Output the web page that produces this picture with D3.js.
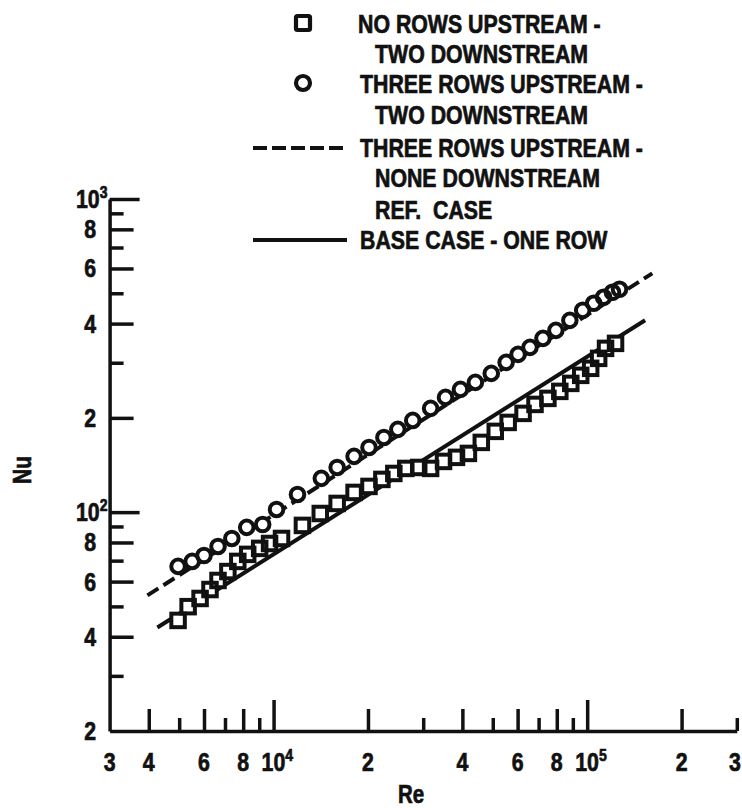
<!DOCTYPE html>
<html>
<head>
<meta charset="utf-8">
<script src="https://cdn.jsdelivr.net/npm/d3@7"></script>
<style>
  html, body { margin: 0; padding: 0; background: #fff; }
  svg { display: block; }
  text { font-family: 'Liberation Sans', Arial, sans-serif; font-weight: bold; fill: #111; stroke: #111; stroke-width: 0.7px; }
</style>
</head>
<body>
<svg id="chart" width="742" height="808"></svg>
<script>
// ---------------- data ----------------
// Three rows upstream - two downstream (circles)
const circleRe = [4960, 5500, 6000, 6650, 7360, 8210, 9230, 10220, 11920, 14200, 15950, 18060, 20150, 22480, 24900, 27780, 31680, 35340, 39430, 44000, 49450, 55150, 60200, 65710, 72270, 79470, 88050, 96770, 104900, 112800, 120400, 126800];
const circleNu = [67.1, 69.6, 72.7, 77.7, 82.4, 89.4, 91.3, 102.0, 113.9, 128.2, 138.9, 150.7, 160.9, 173.2, 183.8, 196.3, 214.5, 232.5, 246.6, 259.6, 277.4, 300.8, 319.0, 335.9, 358.9, 380.6, 409.7, 441.0, 464.4, 485.3, 503.5, 514.8];
// No rows upstream - two downstream (squares)
const squareRe = [4960, 5340, 5830, 6270, 6650, 7150, 7690, 8270, 9030, 9710, 10600, 12360, 14090, 15950, 18060, 20150, 22150, 24180, 26400, 29030, 31680, 34830, 38310, 41810, 45960, 50920, 55980, 62460, 68180, 74950, 81800, 88660, 95370, 102600, 108800, 114450, 123150];
const squareNu = [45.1, 49.9, 53.0, 56.6, 60.5, 64.6, 69.6, 73.3, 76.6, 79.4, 82.4, 90.7, 99.0, 106.6, 115.6, 120.8, 127.2, 132.9, 137.9, 138.9, 137.9, 145.2, 149.6, 154.0, 167.0, 181.1, 193.4, 206.7, 220.8, 230.8, 243.0, 257.7, 273.4, 287.9, 309.8, 333.4, 345.9];
// Reference case (dashed) and base case (solid) lines
const refRe = [3960, 161300];
const refNu = [54.2, 579];
const baseRe = [4260, 153000];
const baseNu = [42.8, 410];

// ticks
const xTickValues = [4000, 5000, 6000, 7000, 8000, 9000, 10000, 20000, 30000, 40000, 50000, 60000, 70000, 80000, 90000, 100000, 200000, 300000];
const xLabelValues = [3000, 4000, 6000, 8000, 10000, 20000, 40000, 60000, 80000, 100000, 200000, 300000];
const xLabelText = ["3", "4", "6", "8", "10^4", "2", "4", "6", "8", "10^5", "2", "3"];
const yTickValues = [30, 40, 50, 60, 70, 80, 90, 100, 200, 300, 400, 500, 600, 700, 800, 900, 1000];
const yLabelValues = [20, 40, 60, 80, 100, 200, 400, 600, 800, 1000];
const yLabelText = ["2", "4", "6", "8", "10^2", "2", "4", "6", "8", "10^3"];

const legendLabels = [
  ["NO ROWS UPSTREAM -", "TWO DOWNSTREAM"],
  ["THREE ROWS UPSTREAM -", "TWO DOWNSTREAM"],
  ["THREE ROWS UPSTREAM -", "NONE DOWNSTREAM", "REF.  CASE"],
  ["BASE CASE - ONE ROW"]
];

// ---------------- drawing ----------------
const svg = d3.select("#chart");
const INK = "#111";
const NARROW = 0.82;   // emulate a condensed bold face
const x = d3.scaleLog().domain([3000, 300000]).range([109.6, 736.8]);
const y = d3.scaleLog().domain([20, 1000]).range([731, 199]);

function mant(d) { return Math.round(d / Math.pow(10, Math.floor(Math.log10(d) + 1e-9))); }

// condensed text helper: anchor point (tx, ty)
function addText(parent, tx, ty, str, size, anchor, rot) {
  const t = parent.append("text")
    .attr("transform", `translate(${tx},${ty})${rot ? ` rotate(${rot})` : ""} scale(${NARROW},1)`)
    .attr("font-size", size).attr("text-anchor", anchor || "start")
    .attr("xml:space", "preserve");
  if (str.indexOf("^") >= 0) {
    const [b, e] = str.split("^");
    t.append("tspan").text(b);
    t.append("tspan").attr("dy", -10).attr("font-size", size * 0.66).text(e);
  } else {
    t.text(str);
  }
  return t;
}

// X axis
const xAxis = d3.axisBottom(x).tickValues(xTickValues).tickSizeOuter(0).tickSizeInner(0).tickFormat(() => "");
const gx = svg.append("g").attr("transform", `translate(0,${y(20)})`).call(xAxis);
gx.select(".domain").attr("stroke", INK).attr("stroke-width", 3.5);
gx.selectAll(".tick line").attr("stroke", INK).attr("stroke-width", 3.5)
  .attr("y2", d => { const m = mant(d); return m === 1 ? -31 : (m % 2 === 0 ? -22 : -13); });
gx.selectAll(".tick text").remove();

// Y axis
const yAxis = d3.axisLeft(y).tickValues(yTickValues).tickSizeOuter(0).tickSizeInner(0).tickFormat(() => "");
const gy = svg.append("g").attr("transform", `translate(${x(3000)},0)`).call(yAxis);
gy.select(".domain").attr("stroke", INK).attr("stroke-width", 3.5);
gy.selectAll(".tick line").attr("stroke", INK).attr("stroke-width", 3.5)
  .attr("x2", d => { const m = mant(d); return m === 1 ? 30 : (m % 2 === 0 ? 24 : 14); });
gy.selectAll(".tick text").remove();

// X labels
const xl = svg.append("g");
xLabelValues.forEach((v, i) => {
  const t = xLabelText[i];
  if (t.indexOf("^") >= 0) addText(xl, x(v) - 12, 771, t, 26, "start");
  else if (i === xLabelValues.length - 1) addText(xl, x(v) + 4, 771, t, 26, "end");
  else addText(xl, x(v), 771, t, 26, "middle");
});
// Y labels
const yl = svg.append("g");
yLabelValues.forEach((v, i) => {
  const t = yLabelText[i];
  if (t.indexOf("^") >= 0) addText(yl, 76, y(v) + 9, t, 26, "start");
  else addText(yl, 96, y(v) + 9, t, 26, "end");
});

// Axis titles
addText(svg, 411, 803, "Re", 25, "middle");
addText(svg, 31, 470, "Nu", 25, "middle", -90);

// Lines
const line = d3.line().x(d => x(d[0])).y(d => y(d[1]));
svg.append("path").datum(refRe.map((r, i) => [r, refNu[i]])).attr("d", line)
  .attr("fill", "none").attr("stroke", INK).attr("stroke-width", 4).attr("stroke-dasharray", "13,6");
svg.append("path").datum(baseRe.map((r, i) => [r, baseNu[i]])).attr("d", line)
  .attr("fill", "none").attr("stroke", INK).attr("stroke-width", 4);

// Markers: white fills first, then strokes (ink-like overlap)
const circles = circleRe.map((r, i) => [r, circleNu[i]]);
const squares = squareRe.map((r, i) => [r, squareNu[i]]);
const R = 6.8, S = 13.5, SW = 4;
const fills = svg.append("g");
fills.selectAll("circle").data(circles).join("circle")
  .attr("cx", d => x(d[0])).attr("cy", d => y(d[1])).attr("r", R).attr("fill", "#fff");
fills.selectAll("rect").data(squares).join("rect")
  .attr("x", d => x(d[0]) - S / 2).attr("y", d => y(d[1]) - S / 2).attr("width", S).attr("height", S).attr("fill", "#fff");
const strokes = svg.append("g");
strokes.selectAll("circle").data(circles).join("circle")
  .attr("cx", d => x(d[0])).attr("cy", d => y(d[1])).attr("r", R)
  .attr("fill", "none").attr("stroke", INK).attr("stroke-width", SW);
strokes.selectAll("rect").data(squares).join("rect")
  .attr("x", d => x(d[0]) - S / 2).attr("y", d => y(d[1]) - S / 2).attr("width", S).attr("height", S)
  .attr("fill", "none").attr("stroke", INK).attr("stroke-width", SW);

// Legend
const lg = svg.append("g");
lg.append("rect").attr("x", 296).attr("y", 16).attr("width", 14).attr("height", 14).attr("rx", 1.5)
  .attr("fill", "none").attr("stroke", INK).attr("stroke-width", 4.2);
lg.append("circle").attr("cx", 303).attr("cy", 83).attr("r", 7)
  .attr("fill", "none").attr("stroke", INK).attr("stroke-width", 4.2);
lg.append("line").attr("x1", 253).attr("x2", 347).attr("y1", 148).attr("y2", 148)
  .attr("stroke", INK).attr("stroke-width", 4).attr("stroke-dasharray", "14,5");
lg.append("line").attr("x1", 253).attr("x2", 347).attr("y1", 240).attr("y2", 240)
  .attr("stroke", INK).attr("stroke-width", 4);
const legendRows = [
  [legendLabels[0][0], 358, 24], [legendLabels[0][1], 375, 54],
  [legendLabels[1][0], 360, 84], [legendLabels[1][1], 375, 115],
  [legendLabels[2][0], 360, 148], [legendLabels[2][1], 375, 178], [legendLabels[2][2], 375, 210],
  [legendLabels[3][0], 360, 240]
];
legendRows.forEach(([t, lx, ly]) => addText(lg, lx, ly + 9, t, 26, "start"));
</script>
</body>
</html>
